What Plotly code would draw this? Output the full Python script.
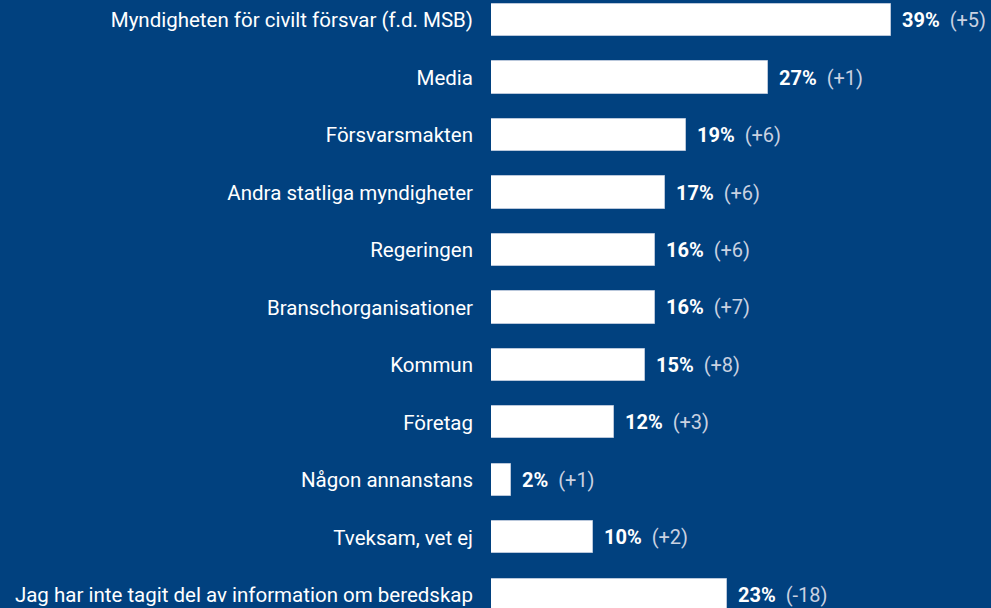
import plotly.graph_objects as go

categories = [
    "Myndigheten för civilt försvar (f.d. MSB)",
    "Media",
    "Försvarsmakten",
    "Andra statliga myndigheter",
    "Regeringen",
    "Branschorganisationer",
    "Kommun",
    "Företag",
    "Någon annanstans",
    "Tveksam, vet ej",
    "Jag har inte tagit del av information om beredskap",
]
values = [39, 27, 19, 17, 16, 16, 15, 12, 2, 10, 23]
changes = ["+5", "+1", "+6", "+6", "+6", "+7", "+8", "+3", "+1", "+2", "-18"]

BG = "#01417f"
FONT = "Roboto, Noto Sans, sans-serif"

fig = go.Figure()
fig.add_trace(go.Bar(
    x=values,
    y=categories,
    orientation="h",
    width=0.56,
    marker=dict(color="#ffffff", line=dict(color="#b9c7db", width=1)),
    hoverinfo="skip",
))

for cat, v, ch in zip(categories, values, changes):
    fig.add_annotation(
        x=v, y=cat, xref="x", yref="y",
        text=f"<b>{v}%</b>\u00a0\u00a0<span style='color:#c9d1e1'>({ch})</span>",
        showarrow=False, xanchor="left", yanchor="middle",
        xshift=9,
        font=dict(family=FONT, size=20, color="#ffffff"),
    )

fig.update_layout(
    width=991, height=608,
    paper_bgcolor=BG, plot_bgcolor=BG,
    margin=dict(l=491, r=0, t=0, b=0),
    showlegend=False,
    bargap=0,
    font=dict(family=FONT, size=20, color="#ffffff"),
    xaxis=dict(range=[0, 48.8], visible=False, fixedrange=True),
    yaxis=dict(
        categoryorder="array", categoryarray=categories,
        range=[10.23, -0.35],
        showgrid=False, zeroline=False, showline=False,
        ticks="", ticklabelstandoff=17,
        tickfont=dict(family=FONT, size=20.5, color="#ffffff"),
        automargin=False, fixedrange=True,
    ),
)

fig.write_html(
    "out.html",
    config={"displayModeBar": False},
    post_script="document.body.style.margin='0';document.body.style.background='%s';"
                "document.body.style.overflow='hidden';" % BG,
)
